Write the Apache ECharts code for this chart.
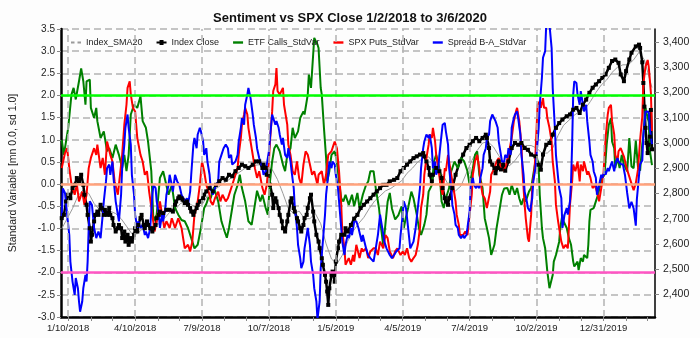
<!DOCTYPE html>
<html><head><meta charset="utf-8">
<script src="https://cdn.jsdelivr.net/npm/echarts@6/dist/echarts.min.js"></script>
<style>html,body{margin:0;padding:0;background:#fdfdfd}#c{width:700px;height:338px}</style>
</head><body><div id="c"></div>
<script>
// ---- category ticks (trading-day index from 1/2/2018) ----
const xTickDays = [6,68,130,192,254,316,378,440,502];
const xTickLabels = ['1/10/2018','4/10/2018','7/9/2018','10/7/2018','1/5/2019','4/5/2019','7/4/2019','10/2/2019','12/31/2019'];
const xMinorDays = [27,47,89,109,151,171,213,233,275,295,337,357,399,419,461,481,523,543];
const priceTicks = [2400,2500,2600,2700,2800,2900,3000,3100,3200,3300,3400];
const refLevels = [2.0, 0.0, -2.0];

// ---- series values [trading day, value] ----
const indexSMA20 = [[0,2660],[5,2700],[10,2740],[15,2790],[20,2815],[25,2800],[30,2760],[35,2735],[40,2720],[45,2730],[50,2720],[55,2700],[60,2670],[65,2640],[70,2640],[75,2660],[80,2670],[85,2670],[90,2680],[95,2700],[100,2725],[105,2735],[110,2760],[115,2770],[120,2755],[125,2745],[130,2755],[135,2790],[140,2810],[145,2825],[150,2840],[155,2855],[160,2870],[165,2885],[170,2900],[175,2905],[180,2912],[185,2915],[190,2910],[195,2895],[200,2855],[205,2800],[210,2740],[215,2720],[220,2730],[225,2700],[230,2700],[235,2720],[240,2680],[245,2600],[250,2540],[255,2520],[260,2555],[265,2610],[270,2650],[275,2680],[280,2705],[285,2740],[290,2770],[295,2790],[300,2810],[305,2820],[310,2835],[315,2850],[320,2880],[325,2900],[330,2925],[335,2940],[340,2945],[345,2920],[350,2890],[355,2860],[360,2820],[365,2810],[370,2830],[375,2880],[380,2930],[385,2970],[390,3000],[395,3005],[400,2985],[405,2950],[410,2920],[415,2910],[420,2930],[425,2960],[430,2990],[435,2990],[440,2980],[445,2960],[450,2960],[455,2980],[460,3030],[465,3070],[470,3090],[475,3110],[480,3125],[485,3135],[490,3165],[495,3200],[500,3230],[505,3250],[510,3280],[515,3300],[520,3310],[525,3310],[530,3330],[535,3360],[540,3330],[545,3250],[547,3220]];

const indexClose = [[0,2702],[2,2715],[4,2768],[6,2795],[8,2781],[10,2821],[12,2834],[14,2861],[16,2848],[18,2874],[20,2834],[21,2795],[23,2755],[24,2715],[26,2662],[27,2609],[28,2636],[30,2689],[31,2715],[33,2728],[34,2715],[36,2755],[37,2742],[39,2715],[40,2735],[42,2715],[44,2742],[45,2715],[47,2702],[48,2675],[50,2649],[52,2662],[53,2675],[55,2662],[56,2623],[58,2649],[59,2609],[61,2636],[62,2596],[64,2623],[65,2609],[67,2636],[68,2662],[70,2649],[71,2675],[73,2702],[74,2715],[76,2675],[77,2662],[79,2689],[80,2675],[82,2662],[84,2649],[85,2662],[87,2675],[88,2702],[90,2715],[91,2728],[94,2722],[97,2735],[100,2735],[103,2728],[105,2755],[106,2768],[108,2781],[109,2788],[111,2781],[112,2775],[114,2762],[116,2768],[117,2755],[119,2742],[120,2728],[122,2715],[123,2728],[125,2742],[126,2755],[128,2768],[129,2768],[131,2781],[132,2795],[134,2808],[137,2821],[140,2808],[143,2834],[146,2848],[149,2861],[152,2854],[155,2874],[158,2868],[161,2888],[164,2901],[167,2914],[170,2908],[173,2901],[177,2914],[180,2927],[183,2927],[186,2901],[187,2914],[189,2901],[190,2874],[192,2888],[193,2834],[195,2795],[196,2742],[198,2781],[199,2768],[201,2742],[202,2715],[204,2689],[205,2662],[207,2649],[209,2689],[210,2715],[212,2768],[213,2781],[215,2742],[216,2728],[218,2702],[219,2689],[221,2662],[222,2649],[224,2675],[225,2702],[227,2715],[228,2742],[230,2781],[231,2795],[233,2728],[234,2689],[236,2636],[238,2609],[239,2583],[241,2543],[242,2517],[244,2477],[245,2450],[246,2411],[247,2358],[248,2424],[250,2477],[251,2490],[253,2450],[254,2530],[256,2583],[257,2609],[259,2636],[262,2636],[263,2662],[265,2649],[268,2675],[271,2700],[274,2715],[277,2742],[280,2755],[283,2768],[286,2781],[289,2795],[292,2808],[295,2821],[298,2834],[301,2834],[304,2848],[308,2854],[311,2861],[314,2888],[317,2901],[320,2914],[323,2927],[326,2940],[329,2947],[332,2954],[335,2960],[336,2947],[338,2927],[340,2901],[341,2874],[343,2848],[344,2874],[347,2901],[350,2888],[352,2861],[353,2821],[355,2781],[356,2768],[358,2755],[359,2781],[362,2821],[365,2874],[369,2927],[372,2954],[375,2980],[378,2993],[381,3007],[384,3020],[387,3007],[390,3020],[393,3033],[394,3020],[396,2980],[397,2927],[399,2914],[401,2900],[402,2880],[404,2901],[405,2927],[407,2895],[409,2914],[411,2890],[414,2927],[417,2980],[420,3000],[423,2993],[426,3000],[429,2980],[432,2973],[435,2954],[439,2947],[442,2914],[444,2894],[446,2954],[449,2993],[452,3000],[455,3033],[458,3060],[461,3079],[464,3093],[468,3106],[471,3113],[474,3132],[477,3139],[480,3119],[483,3152],[486,3172],[489,3199],[492,3219],[495,3232],[498,3245],[501,3258],[504,3272],[507,3298],[510,3325],[513,3331],[516,3318],[518,3272],[521,3245],[523,3285],[526,3331],[528,3358],[532,3383],[535,3390],[536,3377],[538,3320],[539,3238],[540,3144],[541,3060],[542,3000],[543,2960],[544,2993],[545,3025],[546,3131],[547,2975]];

const etfCalls = [[0,1.00],[2,0.66],[6,1.27],[9,2.02],[11,2.17],[13,1.91],[16,2.32],[18,2.61],[20,2.32],[22,1.79],[23,2.32],[26,2.36],[27,1.72],[30,1.49],[32,1.72],[33,1.42],[36,1.04],[39,1.19],[42,0.74],[44,0.81],[47,0.59],[50,0.89],[53,0.66],[56,0.36],[58,0.66],[60,0.29],[62,0.66],[64,1.57],[67,1.79],[70,1.72],[73,1.98],[75,1.42],[78,1.27],[80,0.96],[83,0.29],[85,-0.84],[88,-0.69],[91,0.14],[94,0.29],[99,-0.24],[102,-0.02],[105,-0.54],[108,-0.69],[111,-0.81],[114,-0.84],[117,-0.99],[120,-1.22],[123,-1.45],[126,-1.37],[129,-0.99],[132,-0.54],[134,-0.45],[136,-0.30],[138,-0.32],[141,-0.08],[145,-0.39],[148,-0.84],[151,-1.07],[153,-1.21],[155,-0.99],[158,-0.54],[160,-0.24],[163,-0.02],[165,0.21],[167,-0.09],[170,-0.39],[173,-0.84],[176,-0.92],[178,-0.62],[181,-0.15],[184,-0.39],[186,-0.24],[189,-0.54],[191,-0.69],[193,0.06],[195,0.51],[197,0.81],[199,0.89],[202,0.74],[205,0.44],[207,0.29],[209,0.66],[212,0.81],[214,1.27],[216,1.04],[219,1.19],[221,1.49],[224,1.64],[225,1.57],[228,2.02],[229,2.47],[231,2.17],[233,2.92],[234,3.30],[237,3.15],[238,3.07],[240,2.17],[241,2.02],[243,1.27],[245,0.59],[246,0.06],[248,0.29],[250,0.66],[253,0.74],[255,0.51],[257,0.06],[259,-0.32],[261,-0.39],[263,-0.24],[266,-0.47],[269,-0.24],[271,-0.50],[274,-0.20],[276,-0.55],[279,-0.24],[282,-0.02],[284,0.06],[286,0.29],[289,0.29],[291,-0.09],[294,-0.54],[296,-1.00],[298,-1.40],[300,-0.90],[302,-0.40],[304,-0.20],[306,-0.55],[309,-0.80],[312,-0.70],[315,-0.50],[317,-0.99],[319,-0.75],[321,-0.54],[324,-0.17],[326,-0.32],[329,-0.69],[331,-0.99],[333,-1.15],[336,-0.92],[338,-0.69],[340,-0.17],[343,-0.02],[345,0.51],[347,0.66],[350,0.36],[352,-0.39],[354,-0.54],[356,-0.32],[359,-0.09],[361,0.29],[364,0.51],[367,0.36],[370,0.59],[373,0.51],[376,0.29],[378,-0.02],[381,0.36],[383,0.66],[385,0.74],[387,0.21],[390,-0.09],[392,-0.77],[394,-0.99],[396,-1.22],[398,-1.60],[401,-1.37],[403,-0.99],[405,-0.69],[408,-0.24],[410,-0.10],[413,-0.09],[415,-0.24],[417,-0.02],[420,-0.24],[422,-0.09],[424,-0.32],[426,-0.47],[428,-0.32],[430,-0.39],[433,-0.17],[435,-0.09],[437,0.21],[439,0.51],[440,0.66],[442,0.36],[443,-0.24],[445,-0.99],[446,-1.22],[448,-1.45],[450,-1.97],[452,-2.35],[453,-2.39],[455,-2.05],[456,-1.75],[458,-1.60],[461,-1.30],[462,-0.99],[464,-0.69],[465,-0.84],[468,-0.99],[470,-1.22],[472,-1.37],[474,-1.75],[475,-1.86],[478,-1.75],[479,-1.94],[481,-1.67],[483,-1.75],[484,-1.60],[487,-1.67],[488,-1.37],[489,-0.84],[490,-0.58],[493,-0.54],[495,-0.39],[497,-0.24],[499,-0.02],[501,0.14],[503,0.21],[505,0.89],[507,1.34],[509,1.49],[510,0.96],[512,0.81],[513,0.36],[515,0.59],[517,0.36],[519,0.66],[521,0.44],[524,0.29],[526,1.04],[528,0.40],[530,0.36],[532,0.98],[534,0.40],[536,0.30],[538,0.90],[539,1.10],[541,1.72],[542,1.60],[544,1.40],[545,0.77],[547,0.43]];

const spxPuts = [[0,0.36],[3,0.70],[5,0.81],[7,0.36],[9,0.00],[12,-0.24],[14,0.00],[16,-0.39],[19,-0.17],[21,-0.47],[23,-0.24],[25,0.36],[27,0.59],[30,0.81],[32,0.66],[33,0.89],[36,0.36],[38,0.59],[40,0.21],[42,0.96],[45,0.66],[47,0.51],[49,0.06],[52,-0.24],[54,0.21],[56,0.66],[58,1.34],[60,1.79],[61,2.17],[63,2.32],[64,2.02],[66,1.72],[68,1.64],[70,1.04],[73,0.66],[75,0.51],[77,0.21],[79,0.29],[81,-0.17],[84,-0.69],[86,-1.07],[88,-0.84],[91,-0.39],[93,-0.69],[95,-0.99],[97,-0.84],[100,-0.99],[102,-0.77],[105,-0.99],[108,-0.77],[111,-0.99],[114,-1.45],[117,-1.37],[119,-1.52],[121,-1.30],[123,-0.69],[126,-0.39],[128,-0.02],[130,0.51],[132,0.29],[134,-0.02],[137,-0.24],[138,-0.39],[140,-0.47],[142,-0.32],[145,-0.17],[147,-0.39],[149,-0.24],[152,-0.39],[154,-0.32],[156,-0.17],[158,-0.02],[161,0.21],[163,0.36],[164,0.66],[166,1.04],[167,1.34],[169,1.57],[170,1.72],[172,1.57],[173,1.27],[175,0.96],[177,0.66],[179,0.36],[181,0.14],[183,0.29],[186,-0.09],[188,-0.24],[190,-0.02],[192,0.51],[193,0.96],[195,1.64],[196,2.10],[198,2.25],[199,2.62],[200,2.10],[202,2.02],[205,2.17],[206,1.79],[209,1.34],[210,0.89],[212,0.66],[214,0.29],[216,0.21],[218,0.51],[220,0.14],[222,-0.02],[224,0.44],[226,0.74],[228,0.66],[230,0.44],[232,0.21],[234,0.29],[237,-0.02],[238,0.21],[241,0.29],[243,-0.02],[245,0.21],[247,0.66],[250,0.74],[252,0.89],[253,0.96],[255,0.81],[257,0.29],[259,-0.47],[260,-1.07],[262,-1.45],[263,-1.82],[266,-1.67],[268,-1.82],[270,-1.60],[271,-1.75],[273,-1.37],[276,-1.67],[278,-1.45],[279,-1.52],[282,-1.45],[284,-1.67],[286,-1.52],[289,-1.45],[291,-1.45],[293,-1.60],[295,-1.30],[298,-1.45],[300,-1.15],[302,-1.22],[304,-1.52],[307,-1.67],[309,-1.52],[311,-1.45],[314,-1.60],[316,-1.52],[318,-1.60],[320,-1.45],[322,-1.67],[324,-1.75],[326,-1.67],[328,-1.60],[330,-1.37],[332,-0.99],[333,-0.54],[335,-0.24],[336,0.21],[338,0.59],[340,0.89],[341,1.12],[343,1.04],[344,1.27],[346,0.96],[347,0.66],[349,0.36],[351,-0.02],[353,-0.24],[355,0.36],[356,0.29],[358,0.66],[360,0.36],[362,0.06],[365,-0.39],[366,-0.69],[368,-0.92],[369,-1.15],[372,-1.15],[374,-1.07],[376,-1.15],[378,-0.69],[380,-0.24],[381,0.21],[383,0.51],[385,0.66],[387,0.36],[388,0.06],[390,-0.24],[392,-0.32],[394,-0.54],[397,-0.17],[398,0.21],[401,0.36],[403,0.51],[405,0.59],[407,0.36],[410,0.30],[412,0.45],[414,0.66],[417,1.04],[419,1.42],[421,1.64],[422,1.72],[424,1.42],[426,0.89],[427,0.29],[429,-0.47],[430,-0.77],[432,-1.22],[433,-1.30],[435,-0.69],[436,-0.09],[438,0.29],[439,0.66],[441,1.79],[443,1.87],[444,1.72],[446,1.94],[447,1.72],[449,1.72],[450,1.49],[452,1.27],[454,0.96],[455,0.51],[457,0.06],[458,-0.47],[460,-0.84],[462,-1.15],[463,-1.30],[465,-1.45],[467,-1.37],[469,-1.45],[470,-0.99],[471,-0.47],[473,0.06],[474,0.44],[476,0.29],[478,0.51],[480,0.06],[481,0.44],[483,0.29],[484,0.51],[487,0.21],[488,0.29],[490,0.14],[492,-0.09],[494,-0.02],[496,-0.17],[498,-0.39],[500,-0.09],[502,0.21],[504,1.04],[506,1.57],[507,1.72],[509,1.79],[510,1.42],[512,1.12],[513,0.66],[515,0.51],[516,0.74],[518,0.81],[521,0.62],[524,0.32],[527,0.09],[530,-0.14],[532,0.02],[534,0.32],[536,0.99],[538,1.52],[539,2.26],[541,2.65],[543,2.80],[544,2.65],[546,2.06],[547,1.20]];

const spreadBA = [[0,-0.75],[1,-0.10],[3,-0.20],[5,-0.69],[7,-1.15],[8,-1.75],[10,-2.20],[12,-2.50],[13,-2.12],[15,-2.35],[16,-2.65],[17,-2.88],[19,-2.65],[20,-2.35],[22,-2.05],[23,-2.20],[24,-1.75],[25,-0.99],[26,-0.39],[28,-0.47],[30,-0.99],[32,-1.22],[34,-1.07],[36,-1.22],[38,-0.69],[39,-0.39],[41,0.06],[42,0.36],[44,0.44],[45,0.21],[47,0.51],[48,0.14],[50,-0.39],[52,-0.69],[53,-0.84],[55,-0.24],[56,0.36],[58,0.89],[59,1.27],[61,1.57],[62,1.27],[64,0.89],[65,0.21],[67,-0.24],[68,-0.69],[70,-0.99],[71,-0.84],[73,-0.99],[75,-0.92],[77,-1.15],[78,-1.07],[80,-1.22],[82,-0.99],[84,-0.24],[85,-0.02],[87,-0.09],[88,-0.39],[90,-0.69],[91,-0.99],[93,-0.69],[94,-0.84],[96,-0.54],[97,-0.24],[99,-0.02],[100,0.21],[102,-0.02],[103,-0.17],[105,0.21],[107,0.06],[109,-0.02],[111,-0.24],[112,-0.24],[114,-0.39],[116,-0.32],[117,-0.47],[119,-0.17],[120,0.21],[122,0.89],[123,1.04],[125,0.81],[126,1.12],[128,1.27],[129,1.19],[131,0.96],[132,0.66],[134,0.81],[135,0.51],[137,0.21],[138,-0.09],[140,-0.24],[142,-0.09],[145,0.06],[146,0.51],[148,0.66],[150,0.81],[152,0.89],[154,0.81],[155,0.59],[157,0.66],[158,0.44],[161,0.51],[163,0.66],[164,0.96],[166,1.27],[167,1.49],[169,1.34],[170,1.79],[172,2.02],[173,2.17],[175,1.94],[177,1.57],[178,1.34],[180,1.04],[181,0.81],[183,0.59],[184,0.51],[186,0.36],[187,0.21],[189,0.29],[190,0.44],[192,0.74],[193,1.04],[195,1.57],[196,1.49],[198,1.34],[199,1.42],[201,1.27],[202,1.12],[204,0.89],[205,1.04],[207,0.66],[209,0.59],[210,0.81],[212,0.51],[213,0.29],[215,-0.09],[216,-0.54],[218,-0.99],[219,-1.37],[221,-1.67],[222,-1.90],[224,-1.75],[225,-1.45],[227,-1.15],[228,-0.99],[230,-1.37],[231,-1.75],[233,-2.05],[234,-2.35],[236,-2.65],[237,-3.05],[239,-2.65],[240,-1.90],[242,-1.30],[244,-0.69],[245,-0.24],[247,0.21],[248,0.51],[250,0.36],[251,0.51],[253,0.44],[254,0.21],[256,-0.09],[257,-0.39],[259,-0.99],[260,-1.30],[262,-1.60],[263,-1.37],[265,-1.15],[266,-1.22],[268,-0.99],[269,-1.15],[271,-0.85],[273,-0.84],[275,-0.99],[278,-1.30],[279,-1.15],[282,-1.45],[284,-1.60],[286,-1.67],[289,-1.75],[291,-1.45],[293,-1.15],[295,-0.69],[297,-0.99],[299,-1.30],[301,-1.45],[304,-1.60],[306,-1.67],[308,-1.60],[310,-1.52],[313,-1.45],[314,-1.15],[316,-0.69],[317,-0.39],[319,-0.54],[321,-0.99],[323,-1.45],[326,-1.30],[328,-0.99],[330,-0.54],[332,-0.09],[333,0.36],[335,0.81],[336,0.96],[338,1.12],[340,1.04],[341,1.12],[343,0.81],[344,0.36],[346,0.51],[347,0.21],[349,0.36],[350,0.66],[352,1.12],[353,1.34],[355,1.38],[356,1.19],[358,0.89],[359,0.36],[361,-0.09],[362,-0.47],[364,-0.69],[365,-0.92],[367,-0.99],[368,-1.15],[370,-1.22],[372,-1.15],[373,-1.22],[375,-1.15],[376,-0.99],[378,-0.62],[379,-0.02],[381,0.14],[382,-0.02],[384,-0.09],[385,-0.02],[387,-0.09],[388,0.14],[390,0.36],[391,0.66],[393,0.81],[394,1.04],[396,1.12],[397,1.42],[399,1.57],[400,1.60],[402,1.42],[404,1.27],[405,0.96],[407,0.66],[408,0.51],[410,0.50],[411,0.66],[413,0.59],[414,0.81],[416,0.66],[417,1.27],[419,1.49],[420,1.57],[422,1.64],[423,1.49],[425,1.12],[426,0.66],[428,0.21],[429,-0.17],[431,-0.39],[432,-0.54],[434,-0.62],[436,-0.32],[437,0.06],[439,0.36],[440,0.66],[442,1.27],[443,1.79],[445,2.40],[446,2.85],[448,3.00],[449,3.60],[451,4.00],[452,3.60],[454,3.07],[455,2.17],[457,1.27],[458,0.66],[460,0.14],[461,-0.09],[463,-0.32],[464,-0.99],[466,-0.69],[468,-0.54],[469,-0.69],[471,-0.39],[472,0.06],[473,0.89],[474,2.02],[475,2.32],[476,2.32],[477,2.28],[478,2.02],[480,1.79],[481,2.10],[483,1.79],[484,1.64],[486,1.79],[487,1.42],[489,0.96],[490,0.66],[492,0.51],[493,0.29],[495,0.14],[496,-0.24],[498,-0.02],[500,0.21],[501,0.14],[503,0.29],[504,0.21],[506,0.36],[507,0.29],[509,0.44],[510,0.51],[512,0.29],[513,0.44],[515,0.59],[516,0.51],[518,0.45],[520,0.45],[522,0.20],[524,-0.20],[526,-0.55],[528,-0.40],[530,-0.55],[532,-0.94],[533,-0.34],[535,0.20],[536,0.45],[538,0.53],[539,1.10],[541,1.64],[542,1.66],[544,1.63],[545,1.25],[547,0.90]];

// ---- chart ----
const X_MIN = -0.68, X_MAX = 549.8;
const FONT = 'Liberation Sans, Arial, sans-serif';
const GRID_LINE = {color: '#b2b2b2', type: [7, 4], width: 1.5};
const refColors = ['#00ff00', '#ffa27c', '#ff55c4'];
const labelMap = {};
xTickDays.forEach((d, k) => { labelMap[d] = xTickLabels[k]; });

const BOX = 'M0,0L0,0M10,8L10,8';
const ICON_LINE = 'path://' + BOX + 'M0,2.8H10V5.2H0Z';
const ICON_DASH = 'path://' + BOX + 'M0,3H3.5V5H0ZM6.5,3H10V5H6.5Z';
const ICON_MARK = 'path://' + BOX + 'M0,3H10V5H0ZM3,1.6H7V6.4H3Z';

const chart = echarts.init(document.getElementById('c'), null, {renderer: 'canvas'});
chart.setOption({
  animation: false,
  backgroundColor: '#fdfdfd',
  title: {
    text: 'Sentiment vs SPX Close 1/2/2018 to 3/6/2020',
    left: 'center', top: 7,
    textStyle: {fontFamily: FONT, fontWeight: 'bold', fontSize: 13, color: '#111'}
  },
  legend: {
    left: 71, top: 38, padding: 0, itemWidth: 10, itemHeight: 8, itemGap: 14,
    textStyle: {fontFamily: FONT, fontSize: 9, color: '#222'},
    data: [
      {name: 'Index_SMA20', icon: ICON_DASH},
      {name: 'Index Close', icon: ICON_MARK},
      {name: 'ETF Calls_StdVar', icon: ICON_LINE},
      {name: 'SPX Puts_StdVar', icon: ICON_LINE},
      {name: 'Spread B-A_StdVar', icon: ICON_LINE}
    ]
  },
  grid: {left: 53, top: 29, width: 602, height: 288},
  xAxis: {
    type: 'value', min: X_MIN, max: X_MAX,
    axisLine: {onZero: false, lineStyle: {color: '#000', width: 2.5}},
    axisTick: {show: true, customValues: xTickDays.concat(xMinorDays), length: 4, lineStyle: {color: '#888'}},
    axisLabel: {customValues: xTickDays, formatter: v => labelMap[Math.round(v)] || '', fontFamily: FONT, fontSize: 9.5, color: '#222', margin: 6},
    splitLine: {show: false}
  },
  yAxis: [
    {
      type: 'value', min: -3, max: 3.5, interval: 0.5,
      name: 'Standard Variable [mn 0.0, sd 1.0]', nameLocation: 'middle', nameGap: 42, nameRotate: 90,
      nameTextStyle: {fontFamily: FONT, fontSize: 10.5, color: '#222'},
      axisLine: {show: true, onZero: false, lineStyle: {color: '#000', width: 2.5}},
      axisTick: {show: true, length: 4, lineStyle: {color: '#888'}},
      axisLabel: {formatter: v => v.toFixed(1), fontFamily: FONT, fontSize: 10, color: '#222', margin: 6},
      splitLine: {show: true, lineStyle: GRID_LINE}
    },
    {
      type: 'value', min: 2310, max: 3452, position: 'right',
      axisLine: {show: true, onZero: false, lineStyle: {color: '#000', width: 1.5}},
      axisTick: {show: true, customValues: priceTicks, length: 4, lineStyle: {color: '#888'}},
      axisLabel: {customValues: priceTicks, formatter: v => Math.round(v).toLocaleString('en-US'), fontFamily: FONT, fontSize: 10.5, color: '#222', margin: 8},
      splitLine: {show: false}
    }
  ],
  series: [
    {
      name: 'vgrid', type: 'line', data: [], z: 1, silent: true,
      markLine: {silent: true, symbol: ['none', 'none'], label: {show: false}, lineStyle: GRID_LINE,
        data: xTickDays.map(d => ({xAxis: d}))}
    },
    {name: 'Index_SMA20', type: 'line', yAxisIndex: 1, data: indexSMA20, symbol: 'none',
      lineStyle: {color: '#9a9a9a', width: 1}, itemStyle: {color: '#9a9a9a'}},
    {name: 'Index Close', type: 'line', yAxisIndex: 1, data: indexClose, symbol: 'rect', symbolSize: 4, showAllSymbol: true,
      lineStyle: {color: '#000', width: 2.5}, itemStyle: {color: '#000'}},
    {name: 'ETF Calls_StdVar', type: 'line', data: etfCalls, symbol: 'none',
      lineStyle: {color: '#008000', width: 2}, itemStyle: {color: '#008000'}},
    {name: 'SPX Puts_StdVar', type: 'line', data: spxPuts, symbol: 'none',
      lineStyle: {color: '#ff0000', width: 2}, itemStyle: {color: '#ff0000'}},
    {name: 'Spread B-A_StdVar', type: 'line', data: spreadBA, symbol: 'none',
      lineStyle: {color: '#0000ff', width: 2}, itemStyle: {color: '#0000ff'}},
    {
      name: 'refs', type: 'line', data: [], z: 5, silent: true,
      markLine: {silent: true, symbol: ['none', 'none'], label: {show: false},
        data: refLevels.map((v, k) => ({yAxis: v, lineStyle: {color: refColors[k], width: 2.5, type: 'solid'}}))}
    }
  ]
});
</script>
</body></html>
